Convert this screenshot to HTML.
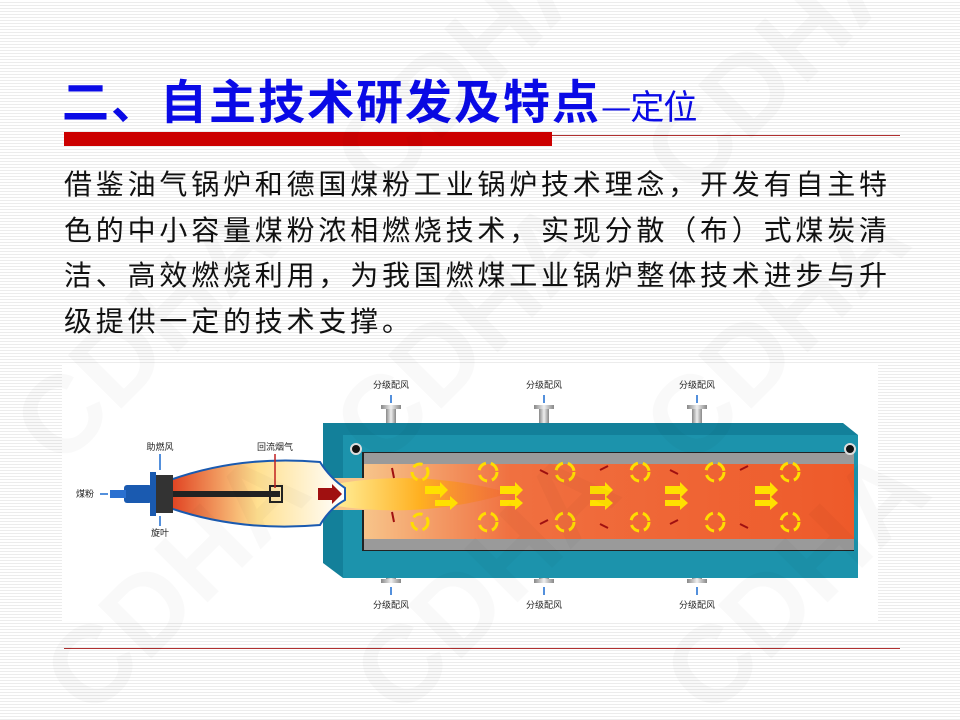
<!DOCTYPE html>
<html><head><meta charset="utf-8"><style>
body{margin:0;width:960px;height:720px;overflow:hidden;position:relative;font-family:"Liberation Sans","Noto Sans CJK SC",sans-serif;
background:#fff repeating-linear-gradient(180deg,#fff 0,#fff 2px,#ececec 2px,#ececec 3px);}
.t{position:absolute;left:62px;top:64px;font-size:47px;color:#0a0ae6;font-family:"Noto Sans CJK SC",sans-serif;font-weight:bold;white-space:nowrap;letter-spacing:2px}
.t small{font-size:34px;letter-spacing:-1px;font-weight:normal}
.p{position:absolute;left:64px;top:161px;width:845px;font-size:28px;line-height:45.5px;letter-spacing:3.8px;color:#111;font-family:"Noto Sans CJK SC",sans-serif}
</style></head><body>
<div class="t">二、自主技术研发及特点<small>—定位</small></div>
<div style="position:absolute;left:64px;top:132px;width:488px;height:14px;background:#cc0000"></div>
<div style="position:absolute;left:552px;top:135px;width:348px;height:1px;background:#b03030"></div>
<div class="p">借鉴油气锅炉和德国煤粉工业锅炉技术理念，开发有自主特色的中小容量煤粉浓相燃烧技术，实现分散（布）式煤炭清洁、高效燃烧利用，为我国燃煤工业锅炉整体技术进步与升级提供一定的技术支撑。</div>
<div style="position:absolute;left:64px;top:648px;width:836px;height:1px;background:#b03030"></div>
<svg style="position:absolute;left:0;top:0" width="960" height="720">
<defs>
<linearGradient id="ch" x1="0" x2="1"><stop offset="0" stop-color="#f7c48a"/><stop offset="0.3" stop-color="#f07040"/><stop offset="1" stop-color="#ee5a2a"/></linearGradient>
<linearGradient id="fl" x1="0" x2="1"><stop offset="0" stop-color="#fff2a0"/><stop offset="0.5" stop-color="#ffb020"/><stop offset="1" stop-color="#f06020" stop-opacity="0.3"/></linearGradient>
<linearGradient id="cone" x1="0" x2="1"><stop offset="0" stop-color="#e04020"/><stop offset="0.5" stop-color="#ffe090"/><stop offset="1" stop-color="#fff"/></linearGradient>
<linearGradient id="pipe" x1="0" x2="1"><stop offset="0" stop-color="#888"/><stop offset="0.5" stop-color="#eee"/><stop offset="1" stop-color="#888"/></linearGradient>
</defs>
<rect x="62" y="365" width="816" height="258" fill="#fff"/>
<g fill="url(#pipe)">
<rect x="386" y="407" width="10" height="18"/><rect x="381" y="405" width="20" height="4"/>
<rect x="539" y="407" width="10" height="18"/><rect x="534" y="405" width="20" height="4"/>
<rect x="692" y="407" width="10" height="18"/><rect x="687" y="405" width="20" height="4"/>
<rect x="386" y="563" width="10" height="18"/><rect x="381" y="579" width="20" height="4"/>
<rect x="539" y="563" width="10" height="18"/><rect x="534" y="579" width="20" height="4"/>
<rect x="692" y="563" width="10" height="18"/><rect x="687" y="579" width="20" height="4"/>
</g>
<g stroke="#1a6ad0" stroke-width="1.5">
<line x1="391" y1="395" x2="391" y2="403"/><line x1="544" y1="395" x2="544" y2="403"/><line x1="697" y1="395" x2="697" y2="403"/>
<line x1="391" y1="587" x2="391" y2="595"/><line x1="544" y1="587" x2="544" y2="595"/><line x1="697" y1="587" x2="697" y2="595"/>
</g>
<polygon points="323,423 843,423 858,435 858,578 343,578 323,563" fill="#13809a"/>
<rect x="343" y="435" width="515" height="143" fill="#1c93ac"/>
<rect x="362" y="452" width="492" height="99" fill="#222"/>
<rect x="364" y="453" width="490" height="11" fill="#9a9a9a"/>
<rect x="364" y="539" width="490" height="11" fill="#9a9a9a"/>
<rect x="364" y="464" width="490" height="75" fill="url(#ch)"/>
<circle cx="356" cy="449" r="5" fill="#111" stroke="#ddd" stroke-width="2"/>
<circle cx="850" cy="449" r="5" fill="#111" stroke="#ddd" stroke-width="2"/>
<polygon points="323,478 364,478 364,510 323,510" fill="#f7c48a"/>
<path d="M330,485 Q420,468 510,493 Q420,520 330,505 Z" fill="url(#fl)"/>
<g fill="#ffe000">
<polygon points="425,486 440,486 440,482 448,490 440,498 440,494 425,494"/>
<polygon points="435,500 450,500 450,496 458,503 450,510 450,506 435,506"/>
<polygon points="500,486 515,486 515,482 523,490 515,498 515,494 500,494"/>
<polygon points="500,500 515,500 515,496 523,503 515,510 515,506 500,506"/>
<polygon points="590,486 605,486 605,482 613,490 605,498 605,494 590,494"/>
<polygon points="590,500 605,500 605,496 613,503 605,510 605,506 590,506"/>
<polygon points="665,486 680,486 680,482 688,490 680,498 680,494 665,494"/>
<polygon points="665,500 680,500 680,496 688,503 680,510 680,506 665,506"/>
<polygon points="755,486 770,486 770,482 778,490 770,498 770,494 755,494"/>
<polygon points="755,500 770,500 770,496 778,503 770,510 770,506 755,506"/>
</g>
<g fill="none" stroke="#ffdd00" stroke-width="3">
<circle cx="488" cy="472" r="9" stroke-dasharray="10 5"/><circle cx="488" cy="522" r="9" stroke-dasharray="10 5"/>
<circle cx="565" cy="472" r="9" stroke-dasharray="10 5"/><circle cx="565" cy="522" r="9" stroke-dasharray="10 5"/>
<circle cx="640" cy="472" r="9" stroke-dasharray="10 5"/><circle cx="640" cy="522" r="9" stroke-dasharray="10 5"/>
<circle cx="715" cy="472" r="9" stroke-dasharray="10 5"/><circle cx="715" cy="522" r="9" stroke-dasharray="10 5"/>
<circle cx="790" cy="472" r="9" stroke-dasharray="10 5"/><circle cx="790" cy="522" r="9" stroke-dasharray="10 5"/>
<circle cx="420" cy="472" r="8" stroke-dasharray="10 5"/><circle cx="420" cy="522" r="8" stroke-dasharray="10 5"/>
</g>
<g stroke="#a01010" stroke-width="2">
<line x1="392" y1="468" x2="394" y2="478"/><line x1="392" y1="512" x2="394" y2="522"/>
<line x1="540" y1="470" x2="548" y2="474"/><line x1="600" y1="470" x2="608" y2="466"/>
<line x1="670" y1="470" x2="678" y2="474"/><line x1="740" y1="470" x2="748" y2="466"/>
<line x1="540" y1="524" x2="548" y2="520"/><line x1="600" y1="524" x2="608" y2="528"/>
<line x1="670" y1="524" x2="678" y2="520"/><line x1="740" y1="524" x2="748" y2="528"/>
</g>
<path d="M170,480 Q240,455 320,462 Q330,478 345,488 L345,500 Q330,508 320,525 Q240,532 170,508 Z" fill="url(#cone)" stroke="#1a5ab0" stroke-width="2"/>
<rect x="170" y="491" width="110" height="6" fill="#222"/>
<rect x="270" y="486" width="12" height="16" fill="none" stroke="#222" stroke-width="2"/>
<polygon points="318,488 332,488 332,484 342,494 332,504 332,500 318,500" fill="#a01010"/>
<rect x="155" y="475" width="18" height="38" fill="#333"/>
<rect x="150" y="472" width="6" height="44" fill="#1a5ab0"/>
<rect x="124" y="485" width="28" height="18" rx="3" fill="#1a5ab0"/>
<rect x="110" y="490" width="16" height="8" fill="#2a70d0"/>
<g stroke="#1a6ad0" stroke-width="1.5"><line x1="160" y1="454" x2="160" y2="470"/><line x1="160" y1="516" x2="160" y2="526"/><line x1="100" y1="494" x2="108" y2="494"/></g>
<line x1="275" y1="454" x2="275" y2="488" stroke="#c02020" stroke-width="1.5"/>
<g font-size="9" fill="#222" font-family="Noto Sans CJK SC,sans-serif" text-anchor="middle">
<text x="391" y="388">分级配风</text><text x="544" y="388">分级配风</text><text x="697" y="388">分级配风</text>
<text x="391" y="608">分级配风</text><text x="544" y="608">分级配风</text><text x="697" y="608">分级配风</text>
<text x="160" y="450">助燃风</text><text x="275" y="450">回流烟气</text><text x="85" y="497">煤粉</text><text x="160" y="536">旋叶</text>
</g>
<g font-size="110" font-weight="bold" fill="#000" opacity="0.025" font-family="Liberation Sans,sans-serif">
<text transform="translate(60,470) rotate(-45)">CDHA</text>
<text transform="translate(380,470) rotate(-45)">CDHA</text>
<text transform="translate(690,470) rotate(-45)">CDHA</text>
<text transform="translate(90,720) rotate(-45)">CDHA</text>
<text transform="translate(400,720) rotate(-45)">CDHA</text>
<text transform="translate(710,720) rotate(-45)">CDHA</text>
<text transform="translate(380,200) rotate(-45)">CDHA</text>
<text transform="translate(690,200) rotate(-45)">CDHA</text>
</g>
</svg>
</body></html>
